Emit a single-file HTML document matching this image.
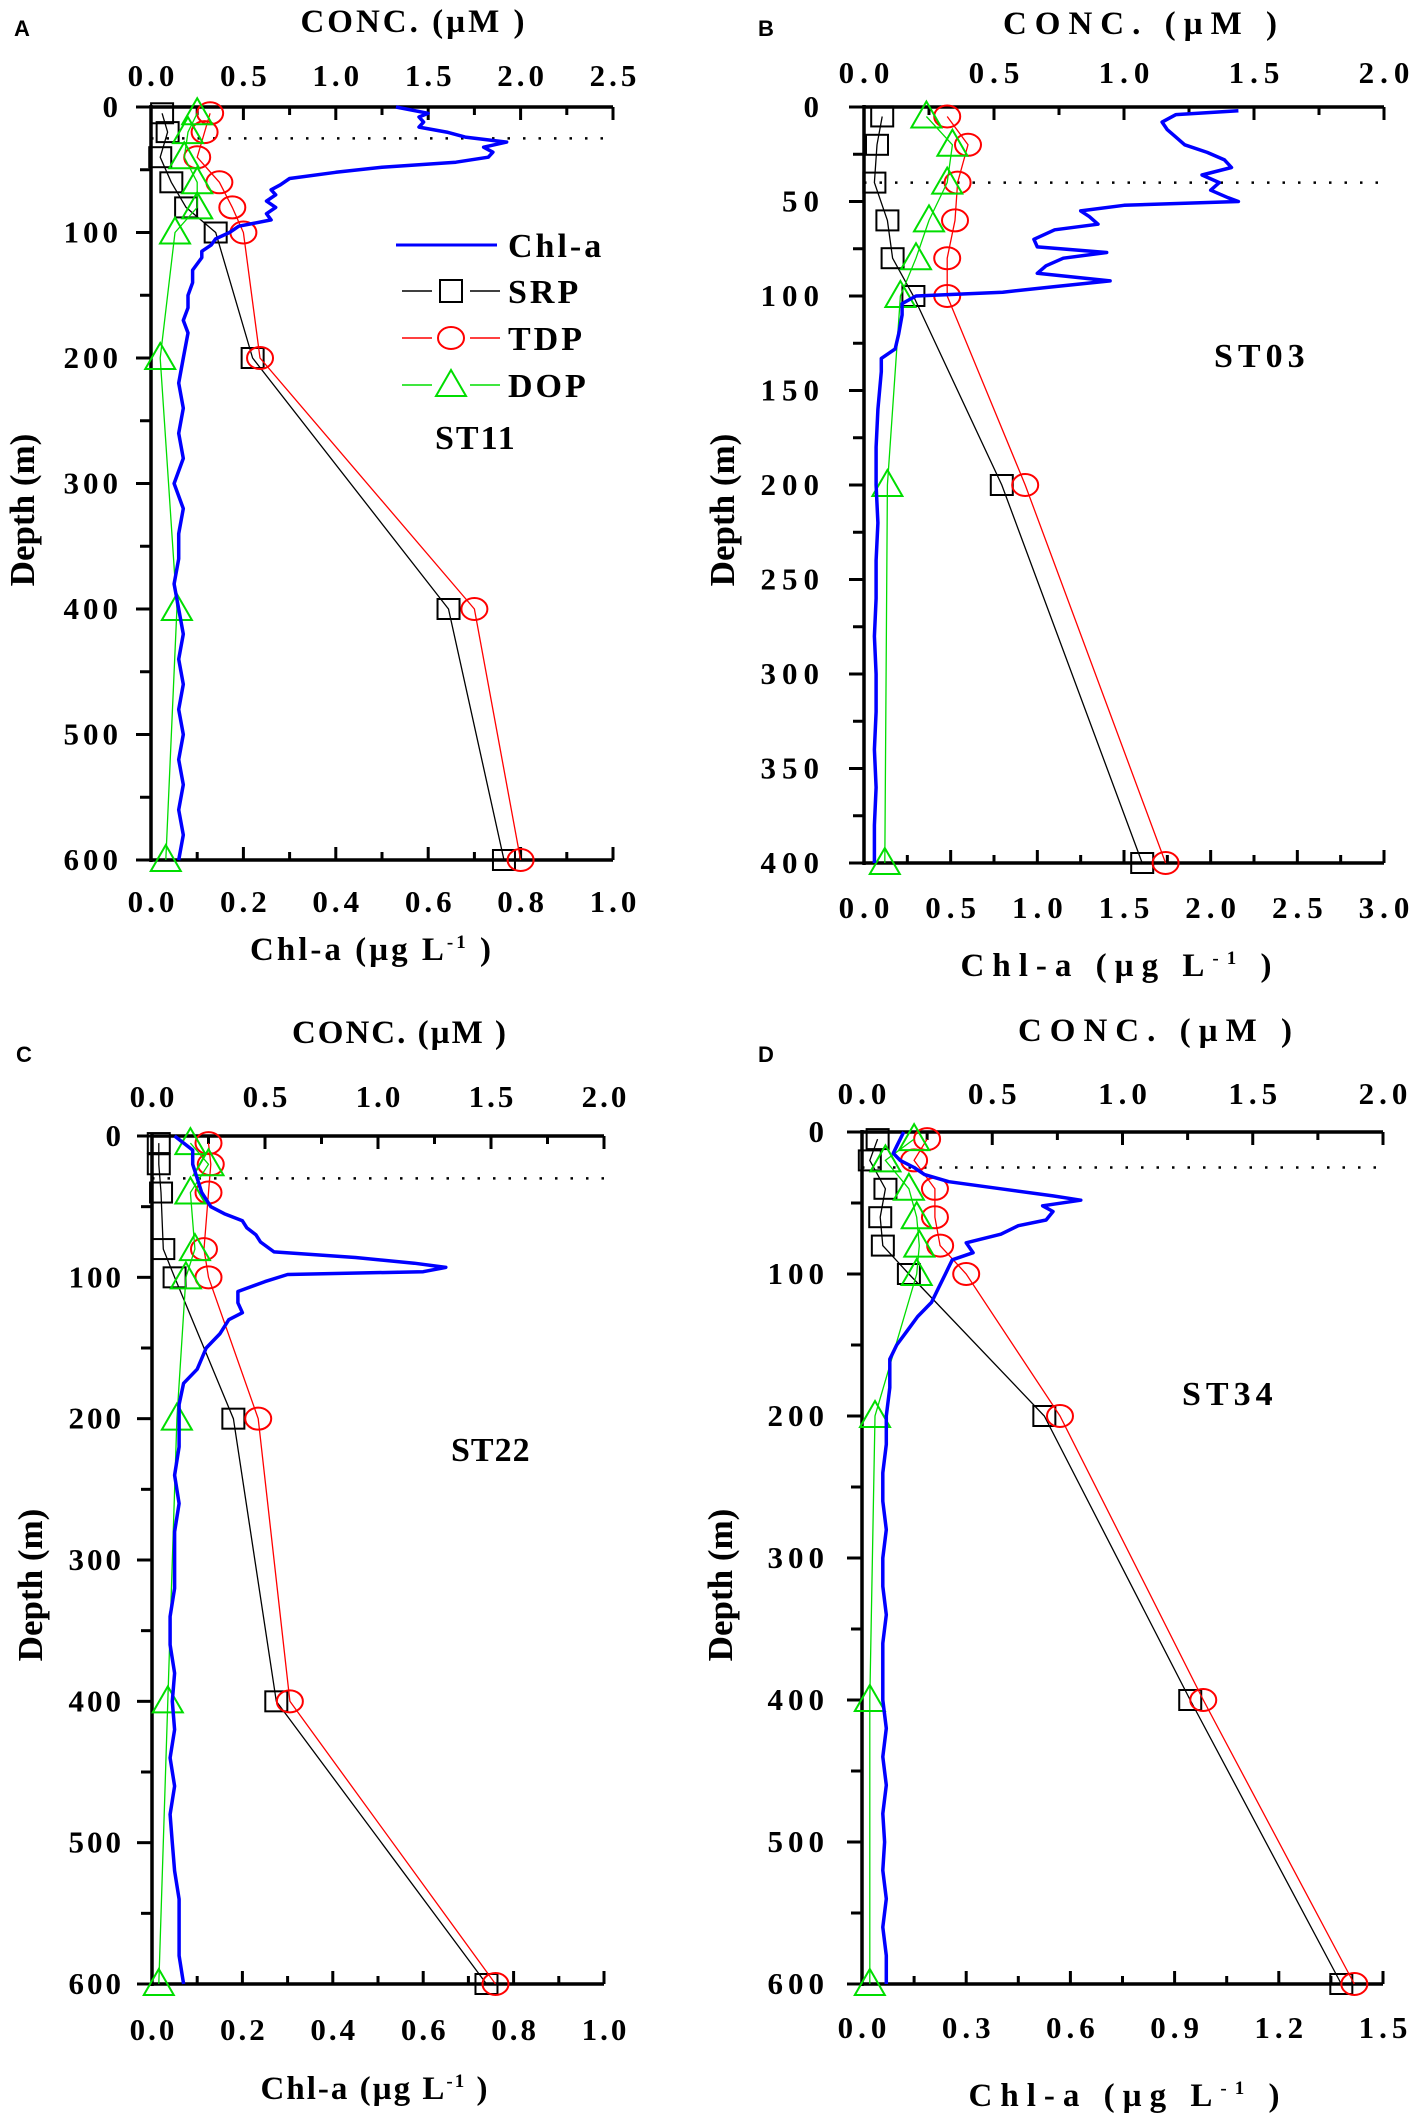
<!DOCTYPE html>
<html><head><meta charset="utf-8"><style>
html,body{margin:0;padding:0;background:#fff;}
svg{display:block;}
text{font-family:"Liberation Serif","Times New Roman","DejaVu Serif",serif;font-weight:bold;fill:#000;}
text.lt{font-family:"Liberation Sans","DejaVu Sans",sans-serif;}
</style></head><body>
<svg id="fig" width="1417" height="2126" viewBox="0 0 1417 2126" xmlns="http://www.w3.org/2000/svg" font-family="Liberation Serif, serif">
</svg>
<script>
// ---------------- DATA ----------------
// Panel A (ST11)
const aDepths=[5,20,40,60,80,100,200,400,600];
const aSRP=[0.06,0.09,0.05,0.11,0.19,0.35,0.55,1.61,1.91];
const aTDP=[0.32,0.29,0.25,0.37,0.44,0.50,0.59,1.75,2.00];
const aDOP=[0.25,0.20,0.18,0.25,0.25,0.13,0.05,0.14,0.08];
const aChlDepth=[0,5,8,12,16,20,24,28,32,36,40,44,48,52,57,62,66,70,75,80,85,90,95,100,105,110,115,120,130,140,150,160,170,180,200,220,240,260,280,300,320,340,360,380,400,420,440,460,480,500,520,540,560,580,600];
const aChl=[0.53,0.60,0.58,0.59,0.58,0.64,0.68,0.77,0.72,0.74,0.73,0.66,0.50,0.40,0.30,0.28,0.26,0.27,0.25,0.27,0.25,0.26,0.19,0.17,0.14,0.13,0.11,0.11,0.09,0.09,0.08,0.08,0.07,0.08,0.07,0.06,0.07,0.06,0.07,0.05,0.07,0.06,0.06,0.05,0.06,0.07,0.06,0.07,0.06,0.07,0.06,0.07,0.06,0.07,0.06];
// Panel B (ST03)
const bDepths=[5,20,40,60,80,100,200,400];
const bSRP=[0.07,0.05,0.04,0.09,0.11,0.19,0.53,1.07];
const bTDP=[0.32,0.40,0.36,0.35,0.32,0.32,0.62,1.16];
const bDOP=[0.24,0.34,0.32,0.25,0.20,0.14,0.09,0.08];
const bChlDepth=[2,4,8,12,16,20,24,28,32,36,40,44,48,50,52,55,58,62,65,70,74,77,80,84,88,92,95,98,100,104,110,120,128,133,140,160,180,200,220,240,260,280,300,320,340,360,380,400];
const bChl=[2.16,1.80,1.72,1.75,1.80,1.85,1.98,2.08,2.12,1.95,2.05,2.00,2.10,2.16,1.50,1.25,1.30,1.35,1.10,0.98,1.00,1.40,1.15,1.05,1.00,1.42,1.10,0.80,0.30,0.22,0.22,0.20,0.18,0.10,0.10,0.08,0.07,0.07,0.08,0.07,0.07,0.06,0.07,0.07,0.06,0.07,0.06,0.06];
// Panel C (ST22)
const cDepths=[5,20,40,80,100,200,400,600];
const cSRP=[0.03,0.03,0.04,0.05,0.10,0.36,0.55,1.48];
const cTDP=[0.25,0.26,0.25,0.23,0.25,0.47,0.61,1.52];
const cDOP=[0.17,0.25,0.17,0.19,0.15,0.11,0.07,0.03];
const cChlDepth=[0,10,20,30,40,50,55,60,65,70,75,82,86,90,93,96,98,103,110,118,125,130,140,150,165,175,190,200,220,240,260,280,300,320,340,360,380,400,420,440,460,480,500,520,540,560,580,600];
const cChl=[0.05,0.09,0.09,0.10,0.11,0.13,0.16,0.20,0.21,0.23,0.24,0.27,0.45,0.58,0.65,0.60,0.30,0.25,0.19,0.19,0.20,0.17,0.15,0.12,0.10,0.07,0.06,0.06,0.06,0.05,0.06,0.05,0.05,0.05,0.04,0.04,0.05,0.045,0.05,0.04,0.05,0.04,0.045,0.05,0.06,0.06,0.06,0.07];
// Panel D (ST34)
const dDepths=[5,20,40,60,80,100,200,400,600];
const dSRP=[0.06,0.03,0.09,0.07,0.08,0.18,0.70,1.26,1.84];
const dTDP=[0.25,0.20,0.28,0.28,0.30,0.40,0.76,1.31,1.89];
const dDOP=[0.20,0.09,0.18,0.21,0.22,0.21,0.05,0.03,0.03];
const dChlDepth=[0,5,10,15,20,25,30,35,40,45,48,52,56,62,66,72,78,85,90,95,100,110,120,130,140,150,160,180,200,220,240,260,280,300,320,340,360,380,400,420,440,460,480,500,520,540,560,580,600];
const dChl=[0.12,0.11,0.10,0.09,0.11,0.15,0.18,0.25,0.40,0.55,0.63,0.52,0.55,0.53,0.45,0.40,0.30,0.32,0.26,0.25,0.24,0.22,0.20,0.16,0.13,0.10,0.08,0.08,0.07,0.07,0.06,0.06,0.07,0.06,0.06,0.07,0.06,0.06,0.06,0.07,0.06,0.07,0.06,0.065,0.06,0.07,0.06,0.07,0.07];
// Tick labels
const concTicksA=["0.0","0.5","1.0","1.5","2.0","2.5"];
const concTicks2=["0.0","0.5","1.0","1.5","2.0"];
const chlTicksA=["0.0","0.2","0.4","0.6","0.8","1.0"];
const chlTicksB=["0.0","0.5","1.0","1.5","2.0","2.5","3.0"];
const chlTicksD=["0.0","0.3","0.6","0.9","1.2","1.5"];
const depthTicks600=["0","100","200","300","400","500","600"];
const depthTicks400=["0","50","100","150","200","250","300","350","400"];

// ---------------- LAYOUT ----------------
const NS="http://www.w3.org/2000/svg";
const svg=document.getElementById('fig');
const SERIF='"Liberation Serif","Times New Roman","DejaVu Serif",serif';
function el(tag,attrs,parent){const e=document.createElementNS(NS,tag);for(const k in attrs)e.setAttribute(k,attrs[k]);if(tag==='text'&&!attrs['class'])e.setAttribute('font-family',SERIF);(parent||svg).appendChild(e);return e;}

const panels=[
 {id:'a',letter:'A',L:151,R:613,T:107,B:860,conc:2.5,chl:1.0,dmax:600,concT:concTicksA,chlT:chlTicksA,depT:depthTicks600,
  depths:aDepths,srp:aSRP,tdp:aTDP,dop:aDOP,cd:aChlDepth,cv:aChl,mld:25,
  title:[414,32,3],topLab:86,botLab:912,botTitle:[372,960,3],depthX:22,depthY:510,labR:122,lx:[14,36],st:['ST11',435,449,2],sp:4},
 {id:'b',letter:'B',L:864,R:1384,T:107,B:863,conc:2.0,chl:3.0,dmax:400,concT:concTicks2,chlT:chlTicksB,depT:depthTicks400,
  depths:bDepths,srp:bSRP,tdp:bTDP,dop:bDOP,cd:bChlDepth,cv:bChl,mld:40,
  title:[1144,34,8],topLab:83,botLab:918,botTitle:[1120,976,8],depthX:722,depthY:510,labR:825,lx:[758,36],st:['ST03',1214,367,5],sp:6},
 {id:'c',letter:'C',L:152,R:604,T:1136,B:1984,conc:2.0,chl:1.0,dmax:600,concT:concTicks2,chlT:chlTicksA,depT:depthTicks600,
  depths:cDepths,srp:cSRP,tdp:cTDP,dop:cDOP,cd:cChlDepth,cv:cChl,mld:30,
  title:[400,1043,2],topLab:1107,botLab:2040,botTitle:[375,2099,2],depthX:30,depthY:1585,labR:124,lx:[16,1062],st:['ST22',451,1461,1],sp:3},
 {id:'d',letter:'D',L:862,R:1383,T:1132,B:1984,conc:2.0,chl:1.5,dmax:600,concT:concTicks2,chlT:chlTicksD,depT:depthTicks600,
  depths:dDepths,srp:dSRP,tdp:dTDP,dop:dDOP,cd:dChlDepth,cv:dChl,mld:25,
  title:[1159,1041,8],topLab:1104,botLab:2038,botTitle:[1128,2106,8],depthX:720,depthY:1585,labR:829,lx:[758,1062],st:['ST34',1182,1405,5],sp:5}
];

panels.forEach(p=>{
  const g=el('g',{});
  
  
  const xC=v=>p.L+(p.R-p.L)*v/p.conc;
  const xChl=v=>p.L+(p.R-p.L)*v/p.chl;
  const y=d=>p.T+(p.B-p.T)*d/p.dmax;

  const pl=el('text',{x:p.lx[0],y:p.lx[1],'font-size':22,'class':'lt','font-family':'"Liberation Sans",sans-serif'},g);pl.textContent=p.letter;
  
  

  const ax=el('path',{d:`M${p.L},${p.T}H${p.R}M${p.L},${p.B}H${p.R}M${p.L},${p.T-2}V${p.B+2}`,stroke:'#000','stroke-width':3.5,fill:'none'},g);
  
  

  const nC=p.concT.length-1;
  for(let i=0;i<=nC*2;i++){
    const v=p.conc*i/(nC*2);const x=xC(v);const len=i%2?8:13;
    el('line',{x1:x,y1:p.T,x2:x,y2:p.T+len,stroke:'#000','stroke-width':3},g);
  }
  p.concT.forEach((t,i)=>{
    const tx=el('text',{x:xC(p.conc*i/nC)+p.sp/2,y:p.topLab,'font-size':31,'text-anchor':'middle','letter-spacing':p.sp},g);
    tx.textContent=t;
    
    
  });
  const nB=p.chlT.length-1;
  for(let i=0;i<=nB*2;i++){
    const x=xChl(p.chl*i/(nB*2));const len=i%2?8:13;
    el('line',{x1:x,y1:p.B,x2:x,y2:p.B-len,stroke:'#000','stroke-width':3},g);
  }
  p.chlT.forEach((t,i)=>{
    const tx=el('text',{x:xChl(p.chl*i/nB)+p.sp/2,y:p.botLab,'font-size':31,'text-anchor':'middle','letter-spacing':p.sp},g);
    tx.textContent=t;
    
    
  });
  const nD=p.depT.length-1;
  for(let i=0;i<=nD*2;i++){
    const yy=y(p.dmax*i/(nD*2));const len=i%2?11:15;
    el('line',{x1:p.L,y1:yy,x2:p.L-len,y2:yy,stroke:'#000','stroke-width':3},g);
  }
  p.depT.forEach((t,i)=>{
    const tx=el('text',{x:p.labR,y:y(p.dmax*i/nD)+10,'font-size':31,'text-anchor':'end','letter-spacing':p.sp},g);
    tx.textContent=t;
    
    
  });
  const tt=el('text',{x:p.title[0],y:p.title[1],'font-size':33,'text-anchor':'middle','letter-spacing':p.title[2]},g);
  tt.textContent='CONC. (\u00B5M )';
  
  
  const bt=el('text',{x:p.botTitle[0],y:p.botTitle[1],'font-size':33,'text-anchor':'middle','letter-spacing':p.botTitle[2]},g);
  bt.innerHTML='Chl-a (\u00B5g L<tspan dy="-12" font-size="19">-1</tspan><tspan dy="12"> )</tspan>';
  
  
  const dt=el('text',{x:0,y:0,'font-size':35,'text-anchor':'middle',transform:`translate(${p.depthX+12},${p.depthY}) rotate(-90)`},g);
  dt.textContent='Depth (m)';
  
  

  const ml=el('line',{x1:p.L,y1:y(p.mld),x2:p.R,y2:y(p.mld),stroke:'#000','stroke-width':2.5,'stroke-dasharray':'2.5 13'},g);
  
  

  const series=[['srp',p.srp,'#000','sq'],['tdp',p.tdp,'#ff0000','ci'],['dop',p.dop,'#00dd00','tr']];
  series.forEach(s=>{
    const pts=p.depths.map((d,i)=>xC(s[1][i]).toFixed(1)+','+y(d).toFixed(1)).join(' ');
    const line=el('polyline',{points:pts,fill:'none',stroke:s[2],'stroke-width':1.3},g);
    
    
    p.depths.forEach((d,i)=>{
      const cx=xC(s[1][i]),cy=y(d);let m;
      if(s[3]==='sq')m=el('rect',{x:cx-11,y:cy-10,width:22,height:20,fill:'none',stroke:s[2],'stroke-width':2},g);
      else if(s[3]==='ci')m=el('ellipse',{cx:cx,cy:cy,rx:13,ry:11,fill:'none',stroke:s[2],'stroke-width':2},g);
      else m=el('polygon',{points:`${cx},${cy-15} ${cx-15},${cy+11} ${cx+15},${cy+11}`,fill:'none',stroke:s[2],'stroke-width':2},g);
      
      
    });
  });
  const cpts=p.cd.map((d,i)=>xChl(p.cv[i]).toFixed(1)+','+y(d).toFixed(1)).join(' ');
  const cl=el('polyline',{points:cpts,fill:'none',stroke:'#0000ff','stroke-width':3.5,'stroke-linejoin':'round'},g);
  
  

  const st=el('text',{x:p.st[1],y:p.st[2],'font-size':34,'letter-spacing':p.st[3]},g);
  st.textContent=p.st[0];
  
  
});

const lg=el('g',{});


const legendItems=[['Chl-a','#0000ff','ln',245],['SRP','#000','sq',291],['TDP','#ff0000','ci',338],['DOP','#00dd00','tr',385]];
legendItems.forEach(it=>{
  const gy=it[3];
  if(it[2]==='ln'){el('line',{x1:396,y1:gy,x2:497,y2:gy,stroke:it[1],'stroke-width':3},lg);}
  else{
    el('line',{x1:402,y1:gy,x2:432,y2:gy,stroke:it[1],'stroke-width':1.5},lg);
    el('line',{x1:470,y1:gy,x2:500,y2:gy,stroke:it[1],'stroke-width':1.5},lg);
    if(it[2]==='sq')el('rect',{x:440,y:gy-11,width:22,height:22,fill:'none',stroke:it[1],'stroke-width':2},lg);
    else if(it[2]==='ci')el('ellipse',{cx:451,cy:gy,rx:13,ry:11,fill:'none',stroke:it[1],'stroke-width':2},lg);
    else el('polygon',{points:`451,${gy-15} 436,${gy+11} 466,${gy+11}`,fill:'none',stroke:it[1],'stroke-width':2},lg);
  }
  const t=el('text',{x:508,y:gy+12,'font-size':34,'letter-spacing':3},lg);
  t.textContent=it[0];
  
  
});
</script>
</body></html>
